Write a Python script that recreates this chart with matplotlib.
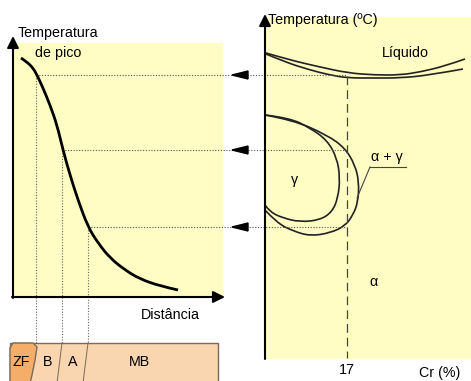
import matplotlib.pyplot as plt
from matplotlib.path import Path
from matplotlib.patches import PathPatch, Rectangle, Polygon

plt.rcParams['font.family'] = ['Liberation Sans', 'DejaVu Sans']

# peak temperature vs distance from the fusion line (drawing units, y grows downward)
pico_x = [21, 27, 33, 37, 43, 50, 57, 63, 70, 78, 88, 98, 110, 125, 140, 160, 178]
pico_y = [58, 62, 68, 75, 88, 105, 125, 150, 175, 200, 227, 243, 258, 270, 279, 286, 290]

# projections: peak temperature levels and where they fall on the curve
niveis_x = [36, 62, 88]
niveis_y = [75, 150, 227]

# Fe-Cr diagram: liquidus / solidus
liq_x = [266, 290, 320, 348, 375, 400, 420, 445, 465]
liq_y = [53, 60, 67, 73, 75, 75, 72, 66, 59]
sol_x = [266, 285, 310, 330, 348, 375, 400, 430, 463]
sol_y = [54, 62, 70, 75, 78, 78, 78, 75, 69]

# gamma loop (inner and outer boundaries)
gin_x = [265, 290, 310, 327, 337, 340, 338, 332, 320, 300, 283, 270, 265]
gin_y = [115, 118, 128, 140, 158, 178, 198, 212, 220, 222, 218, 212, 205]
gout_x = [265, 293, 327, 345, 355, 359, 358, 353, 345, 330, 310, 293, 277, 265]
gout_y = [115, 120, 135, 148, 165, 182, 202, 215, 226, 233, 236, 231, 223, 210]

cr_17 = 347
zonas = ['ZF', 'B', 'A', 'MB']
zonas_x = [21, 48, 73, 140]

amarelo = '#FFFDC3'


def smooth(ax, xs, ys, **kw):
    # quadratic spline through midpoints of the given control points
    pts = list(zip(xs, ys))
    verts = [pts[0]]
    codes = [Path.MOVETO]
    for i in range(1, len(pts) - 1):
        mid = ((pts[i][0] + pts[i + 1][0]) / 2, (pts[i][1] + pts[i + 1][1]) / 2)
        if i == len(pts) - 2:
            mid = pts[-1]
        verts += [pts[i], mid]
        codes += [Path.CURVE3, Path.CURVE3]
    ax.add_patch(PathPatch(Path(verts, codes), fill=False, **kw))


def arrow(ax, start, tip, lw=1.5, hw=0.35, hl=0.7):
    ax.annotate('', xy=tip, xytext=start,
                arrowprops=dict(arrowstyle=f'-|>,head_width={hw},head_length={hl}',
                                color='black', lw=lw, shrinkA=0, shrinkB=0))


fig = plt.figure(figsize=(4.71, 3.81), dpi=100)
ax = fig.add_axes([0, 0, 1, 1])
ax.set_xlim(0, 471)
ax.set_ylim(381, 0)
ax.axis('off')

# panels
ax.add_patch(Rectangle((14, 43), 208, 254, color=amarelo, zorder=0))
ax.add_patch(Rectangle((266, 17), 210, 341, color=amarelo, zorder=0))

# axes with arrows
arrow(ax, (13, 298), (13, 36))
arrow(ax, (12, 297), (225, 297))
arrow(ax, (265, 359), (265, 14))
arrow(ax, (264, 358), (474, 358))

ax.text(18, 33, 'Temperatura', fontsize=10.3, va='center', ha='left')
ax.text(35, 53, 'de pico', fontsize=10.3, va='center', ha='left')
ax.text(170, 315, 'Distância', fontsize=10.3, va='center', ha='center')
ax.text(268, 20, 'Temperatura (ºC)', fontsize=10.3, va='center', ha='left')
ax.text(405, 53, 'Líquido', fontsize=10.3, va='center', ha='center')
ax.text(cr_17, 370, '17', fontsize=10.3, va='center', ha='center')
ax.text(440, 373, 'Cr (%)', fontsize=10.3, va='center', ha='center')

# peak temperature curve
smooth(ax, pico_x, pico_y, lw=2.0, color='black', zorder=3)

# dotted projection lines
for x, y in zip(niveis_x, niveis_y):
    ax.plot([x, cr_17], [y, y], ls=(0, (1, 1.5)), color='#555555', lw=0.8, zorder=2)
    ax.plot([x, x], [y, 343], ls=(0, (1, 1.5)), color='#666666', lw=0.8, zorder=2)
    ax.add_patch(Polygon([(232, y), (248, y - 4), (248, y + 4)], closed=True,
                         color='black', zorder=4))

# phase diagram
smooth(ax, liq_x, liq_y, lw=1.2, color='#222222')
smooth(ax, sol_x, sol_y, lw=1.2, color='#222222')
smooth(ax, gin_x, gin_y, lw=1.2, color='#222222')
smooth(ax, gout_x, gout_y, lw=1.2, color='#222222')
ax.plot([cr_17, cr_17], [76, 358], ls=(0, (7, 4)), color='#444444', lw=0.9)

ax.text(295, 180, 'γ', fontsize=10.3, va='center', ha='center')
ax.text(387, 157, 'α + γ', fontsize=10.3, va='center', ha='center')
ax.plot([370, 406], [167, 167], color='#444444', lw=0.8)
ax.plot([370, 357], [167, 198], color='#444444', lw=0.8)
ax.text(373, 282, 'α', fontsize=10.3, va='center', ha='center')

# weld zones strip
ax.add_patch(Rectangle((10, 343), 208, 45, facecolor='#F9D5B0', edgecolor='#7a6a5a',
                       lw=1.0, zorder=1))
ax.add_patch(Polygon([(10, 348), (13, 343), (33, 343), (37, 347), (35, 360),
                      (32, 375), (30, 383), (10, 383)], closed=True,
                     facecolor='#F4AE6A', edgecolor='#7a6a5a', lw=1.0, zorder=2))
ax.plot([62, 57], [343, 383], color='#7a6a5a', lw=0.7)
ax.plot([88, 83], [343, 383], color='#7a6a5a', lw=0.7)
for z, x in zip(zonas, zonas_x):
    ax.text(x, 362, z, fontsize=10.3, va='center', ha='center', zorder=3)

fig.savefig('out.png', dpi=100)
